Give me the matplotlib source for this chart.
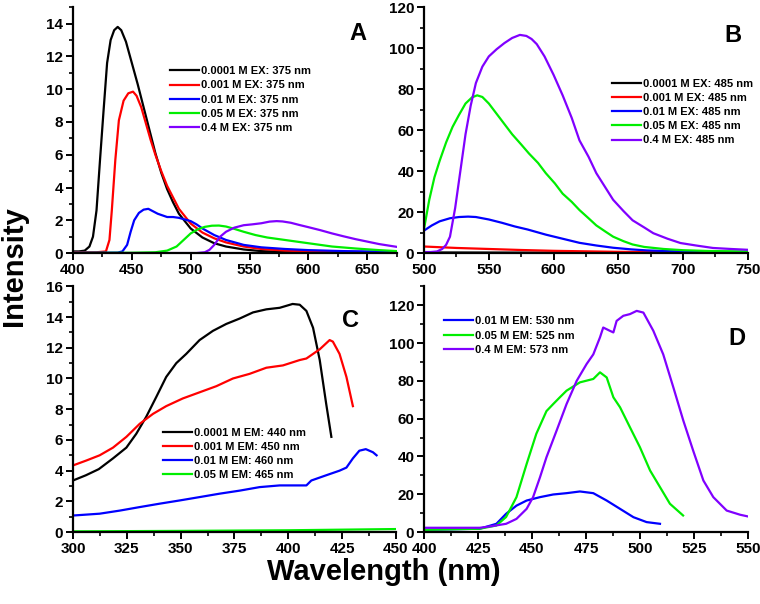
import matplotlib
matplotlib.use('Agg')
import matplotlib.pyplot as plt
from matplotlib.ticker import MultipleLocator

plt.rcParams['font.family'] = ['Liberation Sans', 'DejaVu Sans']
plt.rcParams['font.weight'] = 'bold'

BLACK, RED, BLUE, GREEN, PURPLE = '#000000', '#ff0000', '#0000ff', '#00ee00', '#8000ff'

# ---- Panel A: emission, EX 375 nm ----
a_black_x = [400, 405, 410, 414, 417, 420, 423, 426, 429, 432, 435, 438, 441, 445, 450, 455, 460, 465,
             470, 475, 480, 485, 490, 500, 510, 520, 530, 545, 560, 580, 600, 630, 675]
a_black_y = [0.1, 0.1, 0.15, 0.4, 1.0, 2.6, 5.7, 8.7, 11.6, 13.0, 13.6, 13.8, 13.6, 12.9, 11.6, 10.3, 8.9, 7.5,
             6.1, 4.9, 3.9, 3.1, 2.4, 1.5, 0.95, 0.6, 0.4, 0.22, 0.12, 0.07, 0.05, 0.04, 0.03]
a_red_x = [400, 420, 428, 431, 433, 436, 439, 443, 447, 451, 454, 458, 462, 466, 470, 475, 480, 485, 490,
           500, 510, 520, 530, 545, 560, 580, 600, 630, 675]
a_red_y = [0.05, 0.05, 0.1, 0.8, 2.6, 5.7, 8.1, 9.3, 9.75, 9.85, 9.6, 8.9, 7.9, 6.9, 6.0, 5.0, 4.1, 3.4, 2.7,
           1.8, 1.25, 0.9, 0.65, 0.4, 0.25, 0.15, 0.1, 0.07, 0.05]
a_blue_x = [400, 438, 442, 446, 449, 452, 456, 460, 464, 468, 472, 476, 480, 485, 490, 495, 500, 505, 510,
            520, 530, 545, 560, 580, 600, 630, 675]
a_blue_y = [0.02, 0.03, 0.1, 0.5, 1.3, 2.0, 2.45, 2.65, 2.7, 2.55, 2.4, 2.3, 2.2, 2.2, 2.15, 2.05, 1.95, 1.75,
            1.5, 1.1, 0.8, 0.5, 0.35, 0.25, 0.18, 0.12, 0.08]
a_green_x = [400, 450, 470, 480, 488, 494, 500, 506, 512, 518, 524, 530, 536, 545, 555, 565, 575, 590, 605,
             620, 640, 660, 675]
a_green_y = [0.01, 0.02, 0.05, 0.15, 0.4, 0.8, 1.2, 1.45, 1.6, 1.67, 1.68, 1.62, 1.5, 1.3, 1.1, 0.95, 0.85,
             0.7, 0.55, 0.4, 0.28, 0.18, 0.12]
a_purple_x = [400, 505, 512, 516, 520, 525, 530, 537, 545, 552, 560, 567, 573, 578, 585, 592, 600, 610, 620,
              630, 640, 650, 660, 675]
a_purple_y = [0.0, 0.0, 0.05, 0.2, 0.5, 1.0, 1.3, 1.55, 1.7, 1.75, 1.82, 1.92, 1.95, 1.93, 1.85, 1.72, 1.58,
              1.4, 1.2, 1.02, 0.85, 0.7, 0.55, 0.38]
a_labels = ['0.0001 M EX: 375 nm', '0.001 M EX: 375 nm', '0.01 M EX: 375 nm',
            '0.05 M EX: 375 nm', '0.4 M EX: 375 nm']

# ---- Panel B: emission, EX 485 nm ----
b_black_x = [500, 550, 600, 650, 700, 750]
b_black_y = [0.3, 0.25, 0.2, 0.15, 0.12, 0.1]
b_red_x = [500, 525, 550, 575, 600, 650, 700, 750]
b_red_y = [3.2, 2.5, 2.0, 1.5, 1.1, 0.6, 0.4, 0.3]
b_blue_x = [500, 506, 512, 520, 527, 534, 540, 550, 560, 570, 580, 594, 607, 620, 633, 646, 660, 672, 690,
            710, 730, 750]
b_blue_y = [11, 13.5, 15.5, 17, 17.6, 17.8, 17.6, 16.4, 14.8, 13.0, 11.5, 9.0, 7.0, 5.0, 3.7, 2.6, 1.8, 1.3,
            0.9, 0.7, 0.55, 0.45]
b_green_x = [500, 504, 508, 512, 517, 522, 527, 532, 537, 541, 545, 550, 556, 562, 568, 575, 581, 588, 594,
             601, 607, 614, 620, 627, 633, 640, 646, 654, 661, 670, 685, 700, 720, 750]
b_green_y = [12, 26, 37, 45, 54, 61.6, 67.5, 73, 76, 77, 76.2, 73, 68, 63, 58, 53, 48.6, 44, 39,
             34, 29, 25, 21, 17, 13.5, 10.5, 8, 5.8, 4.2, 3.0, 2.0, 1.4, 1.0, 0.8]
b_purple_x = [500, 505, 510, 514, 517, 520, 524, 528, 532, 536, 540, 545, 550, 556, 562, 568, 574, 579, 583,
              587, 593, 600, 607, 614, 620, 627, 633, 640, 646, 654, 661, 670, 677, 688, 698, 710, 723, 737, 750]
b_purple_y = [0.5, 0.5, 0.8, 2.0, 4.0, 8, 22, 40, 58, 72, 83, 91, 96, 99.5, 102.5, 105, 106.5, 106, 104.5,
              102, 96, 87, 77, 66, 55, 47, 39, 32, 26, 20.5, 16, 12.5, 9.7, 7, 4.9, 3.7, 2.5, 2.0, 1.6]
b_labels = ['0.0001 M EX: 485 nm', '0.001 M EX: 485 nm', '0.01 M EX: 485 nm',
            '0.05 M EX: 485 nm', '0.4 M EX: 485 nm']

# ---- Panel C: excitation, EM 440-465 nm ----
c_black_x = [300, 306, 312, 318.6, 324.8, 329.4, 334, 338.7, 343.3, 348, 352.6, 358.8, 365, 371.2, 377.4,
             383.6, 389.8, 396, 402, 405.3, 408.4, 411.5, 414.6, 417.6, 420]
c_black_y = [3.36, 3.7, 4.1, 4.8, 5.5, 6.4, 7.5, 8.8, 10.1, 11.0, 11.6, 12.5, 13.1, 13.55, 13.9,
             14.3, 14.5, 14.6, 14.85, 14.8, 14.4, 13.3, 11.2, 8.35, 6.2]
c_red_x = [300, 306.2, 312.4, 318.6, 324.8, 331, 337.2, 343.3, 351, 358.8, 366.6, 374.3, 382, 389.8, 397.5,
           405.3, 408.4, 411.5, 414.6, 419.2, 420.7, 423.8, 427, 430]
c_red_y = [4.34, 4.66, 5.0, 5.5, 6.2, 7.05, 7.7, 8.2, 8.7, 9.1, 9.5, 10.0, 10.3, 10.7, 10.85,
           11.2, 11.3, 11.6, 11.9, 12.5, 12.4, 11.6, 10.1, 8.2]
c_blue_x = [300, 312.4, 321.7, 331, 340.2, 349.5, 358.8, 368, 377.4, 386.7, 396, 405.3, 408.4, 410.7, 417.6,
            423.8, 427, 430, 433, 436, 439.3, 441]
c_blue_y = [1.08, 1.2, 1.4, 1.63, 1.85, 2.06, 2.28, 2.5, 2.7, 2.93, 3.04, 3.04, 3.04, 3.36, 3.7,
            4.0, 4.2, 4.8, 5.3, 5.4, 5.2, 5.0]
c_green_x = [300, 350, 400, 450]
c_green_y = [0.05, 0.08, 0.12, 0.2]
c_labels = ['0.0001 M EM: 440 nm', '0.001 M EM: 450 nm', '0.01 M EM: 460 nm', '0.05 M EM: 465 nm']

# ---- Panel D: excitation, EM 525-573 nm ----
d_blue_x = [400, 425.8, 433.5, 438, 442.8, 447.5, 453.7, 459.8, 466, 472.2, 478.4, 484.6, 490.8, 497,
            503.1, 509.3]
d_blue_y = [1.2, 1.8, 4.4, 9.7, 14, 16.7, 18.5, 19.9, 20.6, 21.5, 20.6, 16.7, 12.3, 7.9, 5.3, 4.4]
d_green_x = [400, 425.8, 433.5, 438, 442.8, 447.5, 452, 456.7, 459.8, 462.9, 466, 472.2, 478.4, 481.5,
             484.6, 487.7, 490.8, 495.4, 500, 504.7, 509.3, 513.9, 520]
d_green_y = [1.2, 1.8, 3.5, 8, 18.5, 36, 52, 64, 67.7, 71.3, 74.8, 79.2, 81, 84.5, 81.8, 71.3, 66, 55.4,
             44.9, 32.6, 23.8, 15, 8.8]
d_purple_x = [400, 425.8, 430.5, 438, 442.8, 447.5, 450.5, 453.7, 456.7, 461.4, 466, 470.7, 475.3, 478.4,
              481.5, 483, 486, 487.7, 489.2, 492.3, 495.4, 498.5, 501.6, 506.2, 510.8, 515.5, 520.1, 524.7,
              529.4, 534, 540.2, 546.4, 550]
d_purple_y = [2.3, 2.3, 3, 4.4, 7, 12.3, 18.5, 29, 39.6, 53.7, 67.7, 80, 88.9, 94, 103, 108.2, 106.5, 105.6,
              111.7, 114.4, 115.3, 117, 116.1, 106.5, 94, 76.5, 59, 43, 27.3, 18.5, 11.4, 9.2, 8.3]
d_labels = ['0.01 M EM: 530 nm', '0.05 M EM: 525 nm', '0.4 M EM: 573 nm']

fig = plt.figure(figsize=(7.6, 6.04), dpi=100)
axA = fig.add_axes([0.096, 0.581, 0.426, 0.407])
axB = fig.add_axes([0.558, 0.581, 0.426, 0.407])
axC = fig.add_axes([0.096, 0.119, 0.425, 0.407])
axD = fig.add_axes([0.558, 0.119, 0.426, 0.407])

lw = 1.6
panels = [
    (axA, [(a_black_x, a_black_y, BLACK), (a_red_x, a_red_y, RED), (a_blue_x, a_blue_y, BLUE),
           (a_green_x, a_green_y, GREEN), (a_purple_x, a_purple_y, PURPLE)], a_labels),
    (axB, [(b_black_x, b_black_y, BLACK), (b_red_x, b_red_y, RED), (b_blue_x, b_blue_y, BLUE),
           (b_green_x, b_green_y, GREEN), (b_purple_x, b_purple_y, PURPLE)], b_labels),
    (axC, [(c_black_x, c_black_y, BLACK), (c_red_x, c_red_y, RED), (c_blue_x, c_blue_y, BLUE),
           (c_green_x, c_green_y, GREEN)], c_labels),
    (axD, [(d_blue_x, d_blue_y, BLUE), (d_green_x, d_green_y, GREEN),
           (d_purple_x, d_purple_y, PURPLE)], d_labels),
]
for ax, series, labels in panels:
    for (x, y, c), lab in zip(series, labels):
        ax.plot(x, y, color=c, lw=lw, label=lab)

# axis limits / ticks
axA.set_xlim(400, 675); axA.set_ylim(0, 15)
axA.xaxis.set_major_locator(MultipleLocator(50)); axA.xaxis.set_minor_locator(MultipleLocator(25))
axA.yaxis.set_major_locator(MultipleLocator(2)); axA.yaxis.set_minor_locator(MultipleLocator(1))
axB.set_xlim(500, 750); axB.set_ylim(0, 120)
axB.xaxis.set_major_locator(MultipleLocator(50)); axB.xaxis.set_minor_locator(MultipleLocator(25))
axB.yaxis.set_major_locator(MultipleLocator(20)); axB.yaxis.set_minor_locator(MultipleLocator(10))
axC.set_xlim(300, 450); axC.set_ylim(0, 16)
axC.xaxis.set_major_locator(MultipleLocator(25)); axC.xaxis.set_minor_locator(MultipleLocator(12.5))
axC.yaxis.set_major_locator(MultipleLocator(2)); axC.yaxis.set_minor_locator(MultipleLocator(1))
axD.set_xlim(400, 550); axD.set_ylim(0, 130)
axD.xaxis.set_major_locator(MultipleLocator(25)); axD.xaxis.set_minor_locator(MultipleLocator(12.5))
axD.yaxis.set_major_locator(MultipleLocator(20)); axD.yaxis.set_minor_locator(MultipleLocator(10))

for ax in (axA, axB, axC, axD):
    for s in ('top', 'right'):
        ax.spines[s].set_visible(False)
    for s in ('left', 'bottom'):
        ax.spines[s].set_linewidth(1.6)
    ax.tick_params(which='major', direction='out', length=5, width=1.4, labelsize=11, pad=2)
    ax.tick_params(which='minor', direction='out', length=3, width=1.2)
    for t in ax.get_xticklabels() + ax.get_yticklabels():
        t.set_fontweight('bold')

# legends
leg_kw = dict(frameon=False, fontsize=8, handlelength=2.6, handletextpad=0.2,
              labelspacing=0.38, borderpad=0, borderaxespad=0, loc='upper left')
axA.legend(bbox_to_anchor=(0.30, 0.76), **leg_kw)
axB.legend(bbox_to_anchor=(0.58, 0.71), **leg_kw)
axC.legend(bbox_to_anchor=(0.279, 0.425), **leg_kw)
axD.legend(bbox_to_anchor=(0.062, 0.878), **leg_kw)

# panel letters
letter_kw = dict(fontsize=17, fontweight='bold', ha='center', va='center')
axA.text(0.88, 0.894, 'A', transform=axA.transAxes, **letter_kw)
axB.text(0.954, 0.886, 'B', transform=axB.transAxes, **letter_kw)
axC.text(0.86, 0.862, 'C', transform=axC.transAxes, **letter_kw)
axD.text(0.966, 0.789, 'D', transform=axD.transAxes, **letter_kw)

fig.text(384 / 760, 1 - 572 / 604, 'Wavelength (nm)', fontsize=21, fontweight='bold',
         ha='center', va='center')
fig.text(14 / 760, 1 - 266 / 604, 'Intensity', fontsize=21, fontweight='bold',
         ha='center', va='center', rotation=90)

fig.savefig('out.png', dpi=100)
